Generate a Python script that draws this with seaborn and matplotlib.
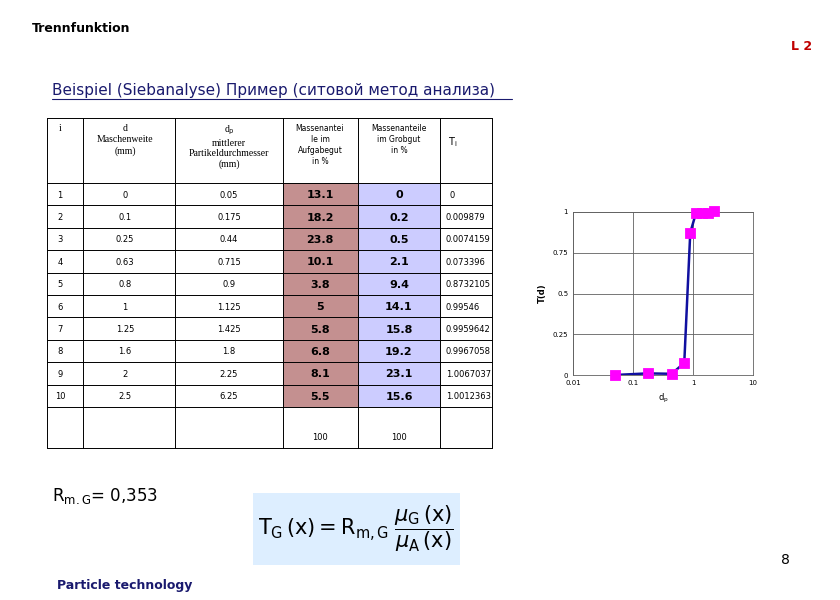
import matplotlib
matplotlib.use("Agg")
import matplotlib.pyplot as plt
import seaborn as sns
import pandas as pd
from matplotlib.patches import Rectangle

i_vals = [1, 2, 3, 4, 5, 6, 7, 8, 9, 10]
d_vals = ["0", "0.1", "0.25", "0.63", "0.8", "1", "1.25", "1.6", "2", "2.5"]
dp_vals = [0.05, 0.175, 0.44, 0.715, 0.9, 1.125, 1.425, 1.8, 2.25, 6.25]
mass_A = ["13.1", "18.2", "23.8", "10.1", "3.8", "5", "5.8", "6.8", "8.1", "5.5"]
mass_G = ["0", "0.2", "0.5", "2.1", "9.4", "14.1", "15.8", "19.2", "23.1", "15.6"]
T_vals = [0, 0.009879, 0.0074159, 0.073396, 0.8732105, 0.99546, 0.9959642, 0.9967058, 1.0067037, 1.0012363]
T_labels = ["0", "0.009879", "0.0074159", "0.073396", "0.8732105", "0.99546", "0.9959642", "0.9967058", "1.0067037", "1.0012363"]

sns.set_style("white")
plt.rcParams['font.family'] = ['DejaVu Sans']
plt.rcParams['text.color'] = 'black'
plt.rcParams['axes.labelcolor'] = 'black'
plt.rcParams['xtick.color'] = 'black'
plt.rcParams['ytick.color'] = 'black'
fig = plt.figure(figsize=(8.4, 6), dpi=100)
W, H = 840, 600

def px(x, y):
    return x / W, 1 - y / H

def txt(x, y, s, **kw):
    fig.text(*px(x, y), s, **kw)

txt(32, 28, "Trennfunktion", fontsize=9, fontweight="bold", va="center")
txt(812, 47, "L 2", fontsize=9, fontweight="bold", color="#c00000", ha="right", va="center")
txt(52, 90, "Beispiel (Siebanalyse) Пример (ситовой метод анализа)", fontsize=11, color="#1a1a6e", va="center")
fig.add_artist(matplotlib.lines.Line2D([52/W, 512/W], [1-99/H]*2, color="#1a1a6e", lw=0.8))

cols = [47, 83, 175, 283, 358, 440, 492]
rows = [118, 183] + [183 + 22.4 * k for k in range(1, 11)] + [448]
for r in range(10):
    y0, y1 = rows[1 + r], rows[2 + r]
    for c, col in ((3, "#c49090"), (4, "#ccccff")):
        fig.add_artist(Rectangle(px(cols[c], y1), (cols[c+1]-cols[c])/W, (y1-y0)/H,
                                 transform=fig.transFigure, facecolor=col, edgecolor="none"))
for x in cols:
    fig.add_artist(matplotlib.lines.Line2D([x/W]*2, [1-118/H, 1-448/H], color="black", lw=0.7))
for y in rows:
    fig.add_artist(matplotlib.lines.Line2D([47/W, 492/W], [1-y/H]*2, color="black", lw=0.7))

hs = dict(fontsize=7, ha="center", va="top", family="Liberation Serif")
txt(60, 124, "i", **hs)
txt(125, 124, "d\nMaschenweite\n(mm)", linespacing=1.3, **hs)
txt(229, 124, "d$_\\mathrm{p}$\nmittlerer\nPartikeldurchmesser\n(mm)", linespacing=1.2, **hs)
ss = dict(fontsize=5.5, ha="center", va="top")
txt(320, 124, "Massenantei\nle im\nAufgabegut\nin %", linespacing=1.3, **ss)
txt(399, 124, "Massenanteile\nim Grobgut\nin %", linespacing=1.3, **ss)
txt(448, 142, "T$_\\mathrm{i}$", fontsize=7, va="center")

for r in range(10):
    yc = (rows[1 + r] + rows[2 + r]) / 2 + 1
    txt(60, yc, str(i_vals[r]), fontsize=6, ha="center", va="center")
    txt(125, yc, d_vals[r], fontsize=6, ha="center", va="center")
    txt(229, yc, f"{dp_vals[r]:g}", fontsize=6, ha="center", va="center")
    txt(320, yc, mass_A[r], fontsize=8, ha="center", va="center", fontweight="bold")
    txt(399, yc, mass_G[r], fontsize=8, ha="center", va="center", fontweight="bold")
    txt(446 if r else 452, yc, T_labels[r], fontsize=6, ha="left" if r else "center", va="center")
txt(320, 438, "100", fontsize=6, ha="center", va="center")
txt(399, 438, "100", fontsize=6, ha="center", va="center")

ax = fig.add_axes([573/W, 1-375/H, 180/W, 163/H])
df = pd.DataFrame({"dp": dp_vals[:9], "T": T_vals[:9]})
sns.lineplot(data=df, x="dp", y="T", ax=ax, color="#1010a0", lw=1.8)
sns.scatterplot(data=df, x="dp", y="T", ax=ax, color="#ff00ff", marker="s", s=55, edgecolor="#ff00ff", zorder=3, clip_on=False)
ax.set_xscale("log")
ax.set_xlim(0.01, 10)
ax.set_ylim(0, 1)
ax.set_xticks([0.01, 0.1, 1, 10])
ax.set_xticklabels(["0.01", "0.1", "1", "10"])
ax.set_yticks([0, 0.25, 0.5, 0.75, 1])
ax.set_yticklabels(["0", "0.25", "0.5", "0.75", "1"])
ax.minorticks_off()
ax.tick_params(labelsize=5, length=0)
ax.grid(True, color="#606060", lw=0.6)
for s in ax.spines.values():
    s.set_color("#606060"); s.set_linewidth(0.6)
ax.set_xlabel("d$_\\mathrm{p}$", fontsize=6)
ax.set_ylabel("T(d)", fontsize=6, fontweight="bold")

txt(52, 496, "R$_\\mathrm{m.G}$= 0,353", fontsize=12, va="center")
fig.add_artist(Rectangle(px(253, 565), 207/W, 72/H, transform=fig.transFigure,
                         facecolor="#ddeeff", edgecolor="none"))
txt(356, 529, r"$\mathrm{T_G\,(x) = R_{m,G}}\;\dfrac{\mu_\mathrm{G}\,(\mathrm{x})}{\mu_\mathrm{A}\,(\mathrm{x})}$",
    fontsize=15, ha="center", va="center", family="DejaVu Serif")
txt(790, 560, "8", fontsize=10, ha="right", va="center")
txt(57, 585, "Particle technology", fontsize=9, fontweight="bold", color="#1a1a6e", va="center")

fig.savefig("out.png", dpi=100)
